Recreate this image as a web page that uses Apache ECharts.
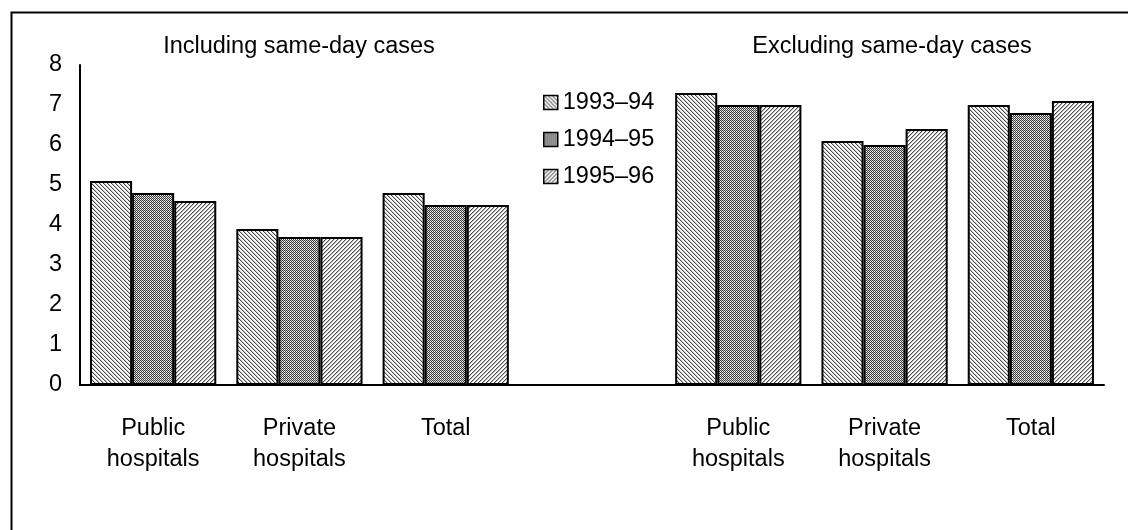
<!DOCTYPE html>
<html>
<head>
<meta charset="utf-8">
<script src="https://cdn.jsdelivr.net/npm/echarts@6/dist/echarts.min.js"></script>
<style>
  html, body { margin: 0; padding: 0; background: #fff; }
  #chart { width: 1128px; height: 530px; }
</style>
</head>
<body>
<div id="chart"></div>
<script>
// Average length of stay (days), by hospital sector and year
const categories = ['Public\nhospitals', 'Private\nhospitals', 'Total', '', 'Public\nhospitals', 'Private\nhospitals', 'Total'];
const seriesNames = ['1993\u201394', '1994\u201395', '1995\u201396'];
const values9394 = [5.1, 3.9, 4.8, null, 7.3, 6.1, 7.0];
const values9495 = [4.8, 3.7, 4.5, null, 7.0, 6.0, 6.8];
const values9596 = [4.6, 3.7, 4.5, null, 7.0, 6.4, 7.1];
const groupTitles = ['Including same-day cases', 'Excluding same-day cases'];
const yTicks = [0, 1, 2, 3, 4, 5, 6, 7, 8];

const FONT = '"Liberation Sans", Arial, sans-serif';

// Small tiled fills: back-diagonal hatch, dense checker, forward-diagonal hatch
function makePattern(kind) {
  const size = 4;
  const c = document.createElement('canvas');
  c.width = size; c.height = size;
  const ctx = c.getContext('2d');
  ctx.fillStyle = '#ffffff';
  ctx.fillRect(0, 0, size, size);
  for (let y = 0; y < size; y++) {
    for (let x = 0; x < size; x++) {
      let col = null;
      if (kind === 'back') {
        const d = ((x - y) % 4 + 4) % 4;
        if (d === 0) col = '#4a4a4a';
        else if (d === 1) col = '#c4c4c4';
      } else if (kind === 'check') {
        if ((x + y) % 2 === 0) col = '#3a3a3a';
        else if (y % 2 === 0) col = '#c8c8c8';
      } else {
        const d = (x + y) % 4;
        if (d === 0) col = '#505050';
        else if (d === 1) col = '#b8b8b8';
      }
      if (col) { ctx.fillStyle = col; ctx.fillRect(x, y, 1, 1); }
    }
  }
  return { image: c, repeat: 'repeat' };
}

const fills = [makePattern('back'), makePattern('check'), makePattern('fwd')];
const seriesData = [values9394, values9495, values9596];

const chart = echarts.init(document.getElementById('chart'), null, { renderer: 'canvas' });

chart.setOption({
  animation: false,
  backgroundColor: '#ffffff',
  textStyle: { fontFamily: FONT, color: '#000' },
  grid: { left: 80, right: 24, top: 65, bottom: 145, containLabel: false },
  legend: {
    orient: 'vertical',
    left: 543,
    top: 89,
    padding: 0,
    itemWidth: 14,
    itemHeight: 14,
    itemGap: 10,
    icon: 'rect',
    data: seriesNames,
    textStyle: { fontFamily: FONT, fontSize: 23.5, color: '#000', lineHeight: 23, padding: [4, 0, 0, 0] },
    itemStyle: { borderColor: '#000', borderWidth: 1.5 }
  },
  xAxis: {
    type: 'category',
    data: categories,
    axisLine: { show: true, lineStyle: { color: '#000', width: 2 } },
    axisTick: { show: false },
    axisLabel: {
      interval: 0,
      margin: 28,
      fontFamily: FONT,
      fontSize: 23.5,
      lineHeight: 31,
      color: '#000'
    },
    splitLine: { show: false }
  },
  yAxis: {
    type: 'value',
    min: yTicks[0],
    max: yTicks[yTicks.length - 1],
    interval: 1,
    axisLine: { show: true, lineStyle: { color: '#000', width: 2 } },
    axisTick: { show: false },
    axisLabel: { margin: 18, fontFamily: FONT, fontSize: 23.5, color: '#000', lineHeight: 30, verticalAlign: 'middle', padding: [6, 0, 0, 0] },
    splitLine: { show: false }
  },
  series: seriesNames.map((name, i) => ({
    name: name,
    type: 'bar',
    data: seriesData[i],
    barGap: '0%',
    barCategoryGap: '13.7%',
    itemStyle: { color: fills[i], borderColor: '#000', borderWidth: 2 }
  })),
  graphic: [
    {
      type: 'rect',
      left: 9, top: 10,
      shape: { x: 0, y: 0, width: 1200, height: 600 },
      style: { fill: 'none', stroke: '#000', lineWidth: 2 },
      silent: true
    },
    {
      type: 'text',
      x: 299, y: 47,
      style: { text: groupTitles[0], font: '23.5px ' + FONT, fill: '#000', align: 'center', verticalAlign: 'middle' }
    },
    {
      type: 'text',
      x: 892, y: 47,
      style: { text: groupTitles[1], font: '23.5px ' + FONT, fill: '#000', align: 'center', verticalAlign: 'middle' }
    }
  ]
});
</script>
</body>
</html>
